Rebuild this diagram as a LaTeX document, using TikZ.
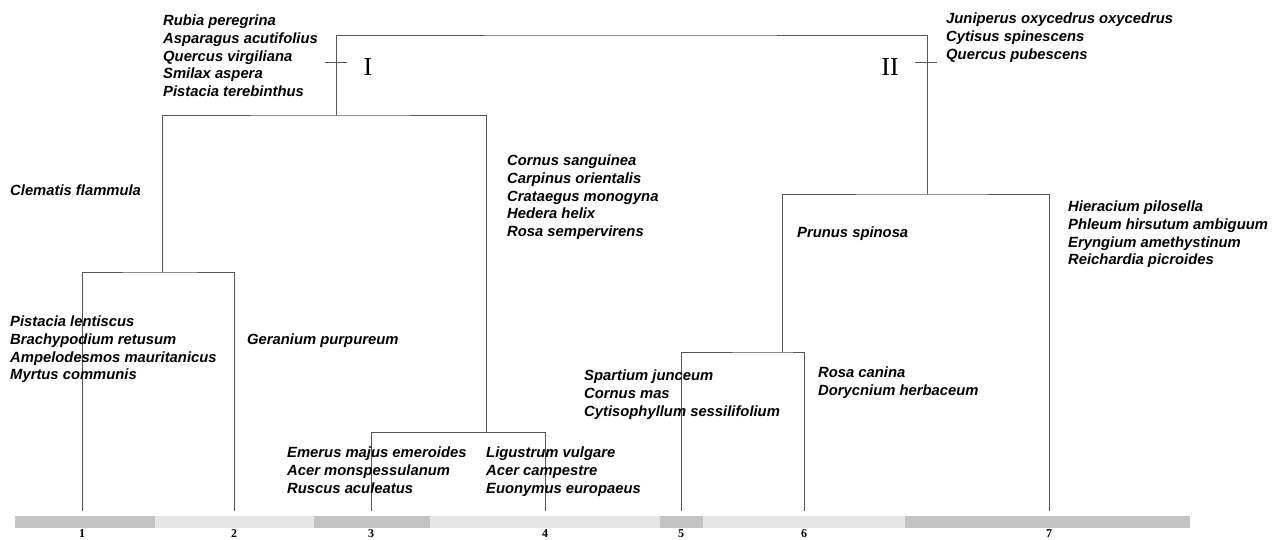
\documentclass[tikz,border=0pt]{standalone}
\usepackage{fontspec}
\setmainfont{Liberation Serif}
\setsansfont{Liberation Sans}
\definecolor{BarDark}{RGB}{195,195,195}
\definecolor{BarLight}{RGB}{230,230,230}
\definecolor{LineGray}{RGB}{85,85,85}

\begin{document}
\begin{tikzpicture}[x=1pt,y=-1pt,
        br/.style={LineGray,line width=0.8pt},
        sp/.style={anchor=north west,inner sep=0pt,align=left,
            font=\fontsize{14.8}{17.6}\selectfont\sffamily\bfseries\itshape},
        grp/.style={inner sep=0pt,font=\fontsize{26}{26}\selectfont},
        num/.style={inner sep=0pt,font=\fontsize{12}{12}\selectfont\bfseries}
    ]
    \useasboundingbox (0,0) rectangle (1284,539);
    % Site bar
    \foreach \a/\b/\c in {15/155/BarDark,155/314/BarLight,314/430/BarDark,
        430/660/BarLight,660/703/BarDark,703/905/BarLight,905/1190/BarDark} {
        \fill[\c] (\a,516) rectangle (\b,528);
    }
    % Leaves and site numbers
    \foreach \n/\x in {1/82,2/234,3/371,4/545,5/681,6/804,7/1049} {
        \coordinate (l\n) at (\x,511);
        \node[num] (n\n) at (\x,534) {\n};
    }
    % Merge points
    \coordinate (m12) at (162,272);
    \coordinate (m34) at (486,432);
    \coordinate (mI) at (336,115);
    \coordinate (m56) at (782,352);
    \coordinate (mII) at (927,194);
    \coordinate (root) at (630,35);
    % Branches
    \draw[br] (l1) |- (m12) -| (l2);
    \draw[br] (l3) |- (m34) -| (l4);
    \draw[br] (m12) |- (mI) -| (m34);
    \draw[br] (l5) |- (m56) -| (l6);
    \draw[br] (m56) |- (mII) -| (l7);
    \draw[br] (mI) |- (root) -| (mII);
    % Group marks
    \coordinate (tIa) at (325,62);
    \coordinate (tIb) at (347,62);
    \coordinate (tIIa) at (915,62);
    \coordinate (tIIb) at (937,62);
    \draw[br] (tIa) -- (tIb);
    \draw[br] (tIIa) -- (tIIb);
    \node[grp] (gI) at (368,67) {I};
    \node[grp] (gII) at (890,67) {II};
    % Species
    \node[sp] (sI) at (163,15) {Rubia peregrina\\Asparagus acutifolius\\Quercus virgiliana\\Smilax aspera\\Pistacia terebinthus};
    \node[sp] (sII) at (946,13) {Juniperus oxycedrus oxycedrus\\Cytisus spinescens\\Quercus pubescens};
    \node[sp] (s12) at (10,185) {Clematis flammula};
    \node[sp] (s34) at (507,155) {Cornus sanguinea\\Carpinus orientalis\\Crataegus monogyna\\Hedera helix\\Rosa sempervirens};
    \node[sp] (s567) at (797,227) {Prunus spinosa};
    \node[sp] (s7) at (1068,201) {Hieracium pilosella\\Phleum hirsutum ambiguum\\Eryngium amethystinum\\Reichardia picroides};
    \node[sp] (s1) at (10,316) {Pistacia lentiscus\\Brachypodium retusum\\Ampelodesmos mauritanicus\\Myrtus communis};
    \node[sp] (s2) at (247,334) {Geranium purpureum};
    \node[sp] (s5) at (584,370) {Spartium junceum\\Cornus mas\\Cytisophyllum sessilifolium};
    \node[sp] (s6) at (818,367) {Rosa canina\\Dorycnium herbaceum};
    \node[sp] (s3) at (287,447) {Emerus majus emeroides\\Acer monspessulanum\\Ruscus aculeatus};
    \node[sp] (s4) at (486,447) {Ligustrum vulgare\\Acer campestre\\Euonymus europaeus};
\end{tikzpicture}
\end{document}
